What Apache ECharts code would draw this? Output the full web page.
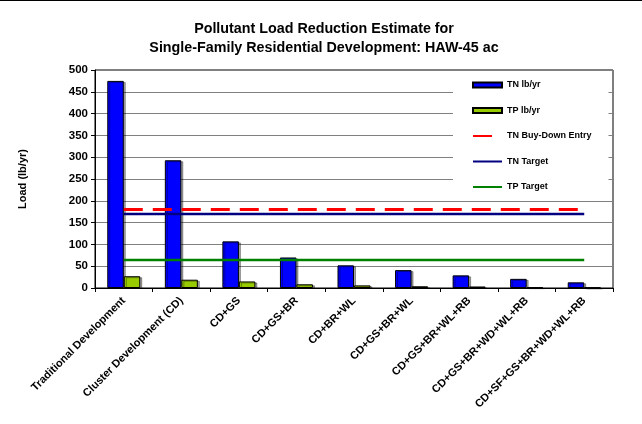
<!DOCTYPE html>
<html>
<head>
<meta charset="utf-8">
<script src="https://cdn.jsdelivr.net/npm/echarts@6/dist/echarts.min.js"></script>
<style>
  html, body { margin: 0; padding: 0; background: #fff; }
  #chart { width: 642px; height: 424px; }
</style>
</head>
<body>
<div id="chart"></div>
<script>
// Development scenarios along the x axis
const categories = [
  'Traditional Development',
  'Cluster Development (CD)',
  'CD+GS',
  'CD+GS+BR',
  'CD+BR+WL',
  'CD+GS+BR+WL',
  'CD+GS+BR+WL+RB',
  'CD+GS+BR+WD+WL+RB',
  'CD+SF+GS+BR+WD+WL+RB'
];

// Annual pollutant loads (lb/yr)
const tnLoad = [475, 293, 107, 70, 52, 41, 29, 21, 13];
const tpLoad = [27, 19, 15, 8.5, 6, 4, 3.5, 1.8, 1.2];

// Reference levels (lb/yr)
const tnBuyDown = 180;
const tnTarget = 170;
const tpTarget = 64;

// Value axis ticks
const yMin = 0;
const yMax = 500;
const yStep = 50;

const FONT = 'Liberation Sans, Arial, sans-serif';
const flat = v => categories.map(() => v);

const chart = echarts.init(document.getElementById('chart'), null, { renderer: 'canvas' });

const barItem = color => ({
  color: color,
  borderColor: '#000',
  borderWidth: 1,
  shadowColor: 'rgba(0,0,0,0.35)',
  shadowOffsetX: 2,
  shadowOffsetY: 1,
  shadowBlur: 0
});

// line entries in the legend show only the stroke, no marker
const lineLegend = name => ({ name: name, itemStyle: { opacity: 0 } });

chart.setOption({
  backgroundColor: '#fff',
  animation: false,
  title: {
    text: 'Pollutant Load Reduction Estimate for\nSingle-Family Residential Development: HAW-45 ac',
    left: 319,
    top: 15,
    textAlign: 'center',
    textStyle: {
      fontFamily: FONT,
      fontSize: 14.3,
      fontWeight: 'bold',
      color: '#000',
      lineHeight: 19
    }
  },
  graphic: [{
    type: 'line',
    shape: { x1: 0, y1: 0.5, x2: 642, y2: 0.5 },
    style: { stroke: '#000', lineWidth: 1 }
  }],
  legend: {
    orient: 'vertical',
    left: 453,
    top: 71,
    padding: [9, 17, 7, 19],
    itemWidth: 29,
    itemHeight: 5,
    itemGap: 15.5,
    backgroundColor: '#fff',
    textStyle: {
      fontFamily: FONT,
      fontSize: 9,
      fontWeight: 'bold',
      color: '#000',
      lineHeight: 10
    },
    data: [
      { name: 'TN lb/yr', icon: 'rect' },
      { name: 'TP lb/yr', icon: 'rect' },
      lineLegend('TN Buy-Down Entry'),
      lineLegend('TN Target'),
      lineLegend('TP Target')
    ]
  },
  grid: {
    left: 95,
    right: 29,
    top: 70,
    bottom: 136,
    show: true,
    borderColor: '#000',
    borderWidth: 1,
    backgroundColor: 'transparent'
  },
  xAxis: {
    type: 'category',
    data: categories,
    axisLine: { lineStyle: { color: '#000', width: 1 } },
    axisTick: { show: true, alignWithLabel: false, length: 4, lineStyle: { color: '#000' } },
    axisLabel: {
      rotate: 45,
      interval: 0,
      margin: 11,
      fontFamily: FONT,
      fontSize: 11,
      fontWeight: 'bold',
      color: '#000'
    },
    splitLine: { show: false }
  },
  yAxis: {
    type: 'value',
    min: yMin,
    max: yMax,
    interval: yStep,
    name: 'Load (lb/yr)',
    nameLocation: 'middle',
    nameGap: 67,
    nameRotate: 90,
    nameTextStyle: {
      fontFamily: FONT,
      fontSize: 11,
      fontWeight: 'bold',
      color: '#000'
    },
    axisLine: { show: true, lineStyle: { color: '#000', width: 1 } },
    axisTick: { show: true, length: 4, lineStyle: { color: '#000' } },
    axisLabel: {
      margin: 7,
      fontFamily: FONT,
      fontSize: 11.5,
      fontWeight: 'bold',
      color: '#000'
    },
    splitLine: { show: true, lineStyle: { color: '#808080', width: 1 } }
  },
  series: [
    {
      name: 'TN lb/yr',
      type: 'bar',
      data: tnLoad,
      barWidth: 16.5,
      barGap: '0%',
      itemStyle: barItem('#0000FF'),
      z: 2
    },
    {
      name: 'TP lb/yr',
      type: 'bar',
      data: tpLoad,
      barWidth: 16.5,
      barGap: '0%',
      itemStyle: barItem('#99CC00'),
      z: 2
    },
    {
      name: 'TN Buy-Down Entry',
      type: 'line',
      data: flat(tnBuyDown),
      symbol: 'none',
      lineStyle: { color: '#FF0000', width: 3, type: [19, 10] },
      itemStyle: { color: '#FF0000' },
      z: 3
    },
    {
      name: 'TN Target',
      type: 'line',
      data: flat(tnTarget),
      symbol: 'none',
      lineStyle: { color: '#000080', width: 2.5 },
      itemStyle: { color: '#000080' },
      z: 3
    },
    {
      name: 'TP Target',
      type: 'line',
      data: flat(tpTarget),
      symbol: 'none',
      lineStyle: { color: '#008000', width: 2.5 },
      itemStyle: { color: '#008000' },
      z: 3
    }
  ]
});
</script>
</body>
</html>
